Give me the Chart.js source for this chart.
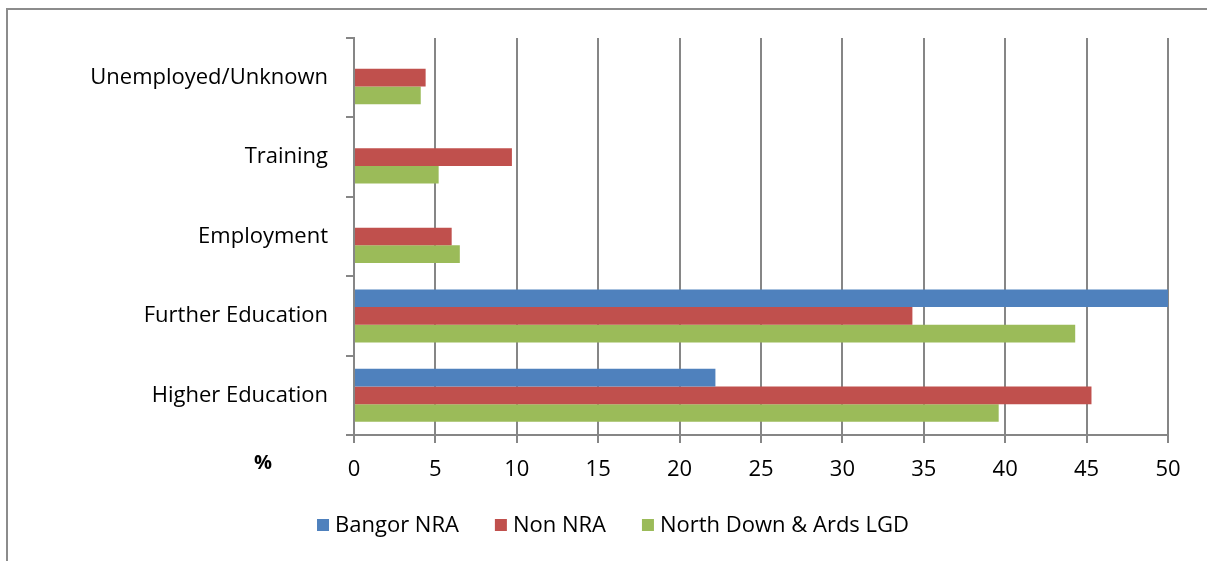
<!DOCTYPE html>
<html>
<head>
<meta charset="utf-8">
<script src="https://cdn.jsdelivr.net/npm/chart.js@4/dist/chart.umd.min.js"></script>
<style>
  html, body { margin: 0; padding: 0; background: #fff; }
  #wrap { position: relative; width: 1207px; height: 561px; }
</style>
</head>
<body>
<div id="wrap"><canvas id="chart" width="1207" height="561"></canvas></div>
<script>
// categories, top to bottom
const categories = ["Unemployed/Unknown", "Training", "Employment", "Further Education", "Higher Education"];

// series values (%)
const bangorNRA = [null, null, null, 50.1, 22.2];
const nonNRA = [4.4, 9.7, 6.0, 34.3, 45.3];
const northDownArds = [4.1, 5.2, 6.5, 44.3, 39.6];

const xTicks = [0, 5, 10, 15, 20, 25, 30, 35, 40, 45, 50];

const gridColor = "#868686";
const fontFamily = "'Open Sans', Lato, sans-serif";
const fontSize = 22;

// outer frame, "%" label and legend
const extras = {
    id: "extras",
    beforeDraw(chart) {
        const ctx = chart.ctx;
        ctx.save();
        ctx.strokeStyle = "#8c8c8c";
        ctx.lineWidth = 2;
        ctx.beginPath();
        ctx.moveTo(7, 561);
        ctx.lineTo(7, 9);
        ctx.lineTo(1207, 9);
        ctx.stroke();
        ctx.restore();
    },
    afterDraw(chart) {
        const ctx = chart.ctx;
        const area = chart.chartArea;
        ctx.save();
        ctx.fillStyle = "#000";
        ctx.font = "bold 20px " + fontFamily;
        ctx.textAlign = "center";
        ctx.textBaseline = "middle";
        ctx.fillText("%", area.left - 91, area.bottom + 28);

        // legend
        ctx.font = fontSize + "px " + fontFamily;
        ctx.textAlign = "left";
        const box = 12, boxGap = 6, itemGap = 36;
        const items = chart.data.datasets.map(ds => ({
            label: ds.label,
            color: ds.backgroundColor,
            w: box + boxGap + ctx.measureText(ds.label).width
        }));
        const total = items.reduce((s, it) => s + it.w, 0) + itemGap * (items.length - 1);
        let x = 613 - total / 2;
        const y = 525;
        items.forEach(it => {
            ctx.fillStyle = it.color;
            ctx.fillRect(x, y - box / 2, box, box);
            ctx.fillStyle = "#000";
            ctx.fillText(it.label, x + box + boxGap, y + 1);
            x += it.w + itemGap;
        });
        ctx.restore();
    }
};

new Chart(document.getElementById("chart"), {
    type: "bar",
    data: {
        labels: categories,
        datasets: [
            { label: "Bangor NRA", data: bangorNRA, backgroundColor: "#4F81BD" },
            { label: "Non NRA", data: nonNRA, backgroundColor: "#C0504D" },
            { label: "North Down & Ards LGD", data: northDownArds, backgroundColor: "#9BBB59" }
        ]
    },
    options: {
        indexAxis: "y",
        responsive: false,
        animation: false,
        categoryPercentage: 0.667,
        barPercentage: 1,
        layout: { padding: { top: 38, right: 39, left: 0, bottom: 68 } },
        plugins: {
            legend: { display: false },
            tooltip: { enabled: false }
        },
        scales: {
            x: {
                min: 0,
                max: 50,
                afterBuildTicks(scale) {
                    scale.ticks = xTicks.map(v => ({ value: v }));
                },
                afterFit(scale) { scale.height = 58; },
                grid: { color: gridColor, lineWidth: 2, tickLength: 8 },
                border: { color: gridColor, width: 2 },
                ticks: { color: "#000", font: { family: fontFamily, size: fontSize }, padding: 14 }
            },
            y: {
                afterFit(scale) { scale.width = 354; },
                grid: { drawOnChartArea: false, color: gridColor, lineWidth: 2, tickLength: 8, offset: true },
                border: { color: gridColor, width: 2 },
                ticks: { color: "#000", font: { family: fontFamily, size: fontSize }, padding: 18 }
            }
        }
    },
    plugins: [extras]
});
</script>
</body>
</html>
